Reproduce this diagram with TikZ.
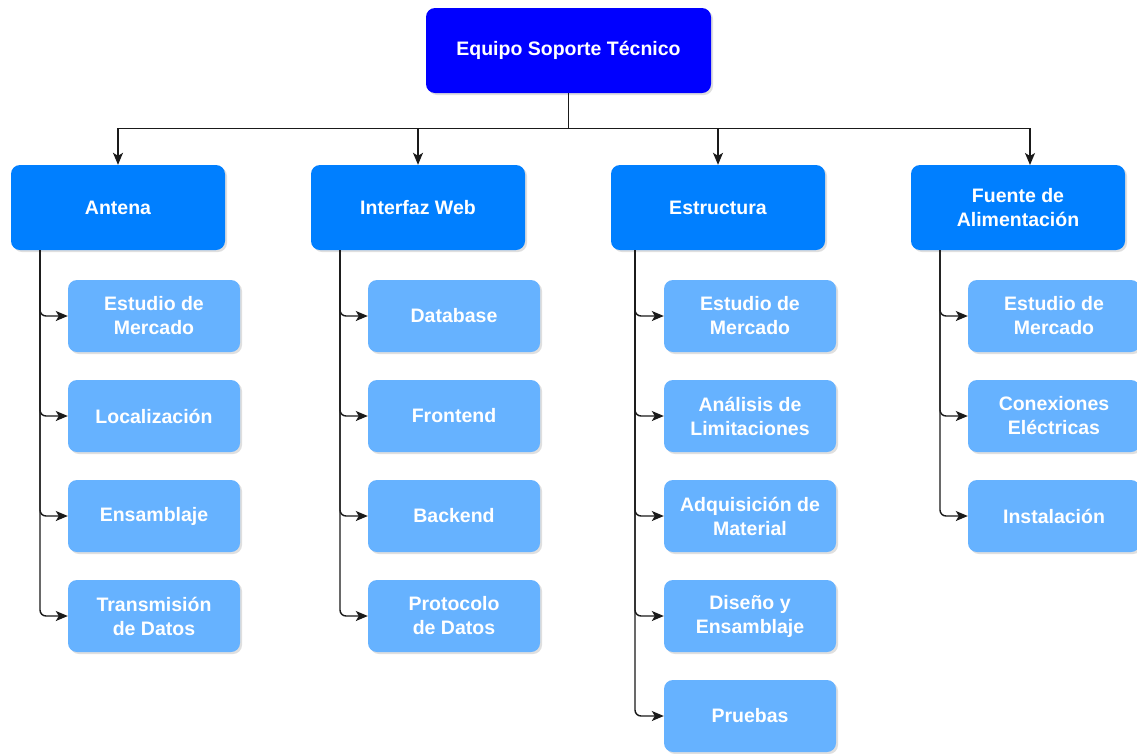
\documentclass[tikz,border=0pt]{standalone}
\usepackage{fontspec}
\setmainfont{Liberation Sans}
\usetikzlibrary{arrows.meta,shadows}
\definecolor{rootblue}{HTML}{0000FF}
\definecolor{catblue}{HTML}{007FFF}
\definecolor{leafblue}{HTML}{66B2FF}
\definecolor{linegray}{HTML}{1A1A1A}

\begin{document}
\begin{tikzpicture}[x=1pt,y=-1pt,
  box/.style={rounded corners=9pt, text=white, align=center, inner sep=0pt,
    font=\fontsize{19.5}{24}\selectfont\bfseries,
    drop shadow={opacity=0.25, shadow xshift=2pt, shadow yshift=-2pt}},
  root/.style={box, fill=rootblue, minimum width=285pt, minimum height=85pt},
  cat/.style={box, fill=catblue, minimum width=214pt, minimum height=85pt},
  leaf/.style={box, fill=leafblue, minimum width=172pt, minimum height=72pt},
  link/.style={draw=linegray, line width=1.4pt, -{Stealth[length=12pt,width=10pt,inset=3pt]}},
  branch/.style={link, rounded corners=6pt}]

\useasboundingbox[fill=white] (0,0) rectangle (1137,753);

% root and the four areas
\node[root] (root) at (568.5,50.5) {Equipo Soporte Técnico};
\node[cat] (ant) at (118,207.5) {Antena};
\node[cat] (web) at (418,207.5) {Interfaz Web};
\node[cat] (est) at (718,207.5) {Estructura};
\node[cat] (fue) at (1018,207.5) {Fuente de\\Alimentación};

% tasks of each area
\node[leaf] (a1) at (154,316) {Estudio de\\Mercado};
\node[leaf] (a2) at (154,416) {Localización};
\node[leaf] (a3) at (154,516) {Ensamblaje};
\node[leaf] (a4) at (154,616) {Transmisión\\de Datos};

\node[leaf] (w1) at (454,316) {Database};
\node[leaf] (w2) at (454,416) {Frontend};
\node[leaf] (w3) at (454,516) {Backend};
\node[leaf] (w4) at (454,616) {Protocolo\\de Datos};

\node[leaf] (e1) at (750,316) {Estudio de\\Mercado};
\node[leaf] (e2) at (750,416) {Análisis de\\Limitaciones};
\node[leaf] (e3) at (750,516) {Adquisición de\\Material};
\node[leaf] (e4) at (750,616) {Diseño y\\Ensamblaje};
\node[leaf] (e5) at (750,716) {Pruebas};

\node[leaf] (f1) at (1054,316) {Estudio de\\Mercado};
\node[leaf] (f2) at (1054,416) {Conexiones\\Eléctricas};
\node[leaf] (f3) at (1054,516) {Instalación};

% distribution bus from the root
\coordinate (fueIn) at (1030,165);
\draw[link] (root.south) -- ++(0,35) -| (ant.north);
\draw[link] (root.south) -- ++(0,35) -| (web.north);
\draw[link] (root.south) -- ++(0,35) -| (est.north);
\draw[link] (root.south) -- ++(0,35) -| (fueIn);

% trunks under each area
\coordinate (antT) at (40,250);
\coordinate (webT) at (340,250);
\coordinate (estT) at (635,250);
\coordinate (fueT) at (940,250);

\foreach \l in {a1,a2,a3,a4} \draw[branch] (antT) |- (\l.west);
\foreach \l in {w1,w2,w3,w4} \draw[branch] (webT) |- (\l.west);
\foreach \l in {e1,e2,e3,e4,e5} \draw[branch] (estT) |- (\l.west);
\foreach \l in {f1,f2,f3} \draw[branch] (fueT) |- (\l.west);
\end{tikzpicture}
\end{document}
